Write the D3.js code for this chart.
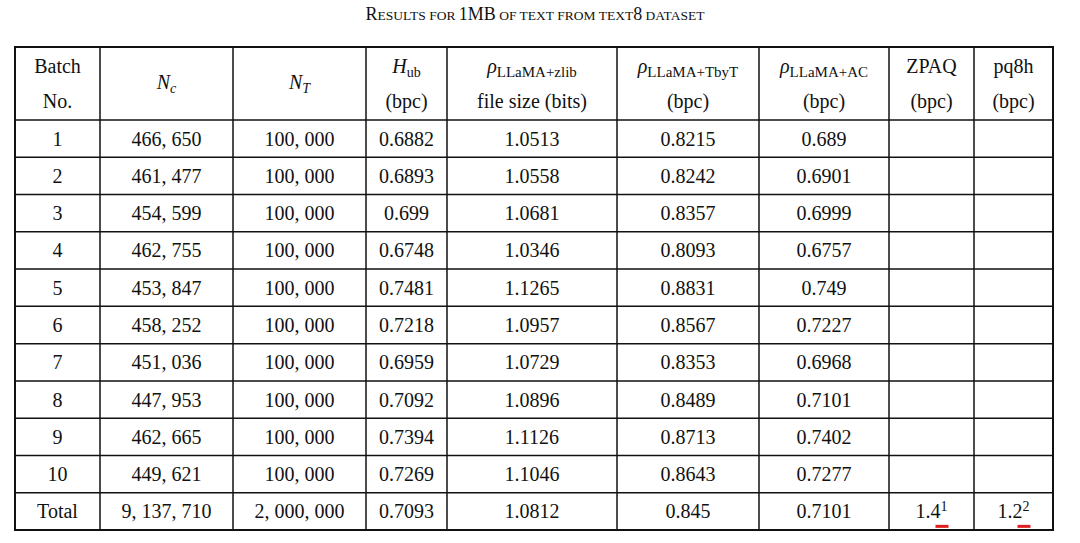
<!DOCTYPE html>
<html><head><meta charset="utf-8">
<script src="https://cdn.jsdelivr.net/npm/d3@7"></script>
<style>body{margin:0;background:#fff}text{font-family:"Liberation Serif","DejaVu Serif",serif;fill:#111}</style>
</head><body>
<svg id="c" width="1080" height="543"></svg>
<script>
// table data
const batches = ["1","2","3","4","5","6","7","8","9","10","Total"];
const nc = ["466, 650","461, 477","454, 599","462, 755","453, 847","458, 252","451, 036","447, 953","462, 665","449, 621","9, 137, 710"];
const nt = ["100, 000","100, 000","100, 000","100, 000","100, 000","100, 000","100, 000","100, 000","100, 000","100, 000","2, 000, 000"];
const hub = ["0.6882","0.6893","0.699","0.6748","0.7481","0.7218","0.6959","0.7092","0.7394","0.7269","0.7093"];
const zlib = ["1.0513","1.0558","1.0681","1.0346","1.1265","1.0957","1.0729","1.0896","1.1126","1.1046","1.0812"];
const tbyt = ["0.8215","0.8242","0.8357","0.8093","0.8831","0.8567","0.8353","0.8489","0.8713","0.8643","0.845"];
const ac = ["0.689","0.6901","0.6999","0.6757","0.749","0.7227","0.6968","0.7101","0.7402","0.7277","0.7101"];
const zpaq = ["","","","","","","","","","","1.4|1"];
const pq8h = ["","","","","","","","","","","1.2|2"];
const colEdges = [15,100,233,366,447,617,759,889,974,1053];

const svg = d3.select("#c");
const cols = [batches,nc,nt,hub,zlib,tbyt,ac,zpaq,pq8h];
const y = d3.scaleLinear().domain([0,11]).range([120,530]);
const topY = 47;

// title
const t = svg.append("text").attr("x",535).attr("y",20).attr("text-anchor","middle").style("font-size","18px");
[["R",18],["ESULTS FOR ",13.5],["1MB",18],[" OF TEXT FROM TEXT",13.5],["8",18],[" DATASET",13.5]].forEach(([s,f])=>t.append("tspan").text(s).style("font-size",f+"px"));

// grid
const g = svg.append("g").attr("stroke","#111").attr("stroke-width",1.5);
colEdges.forEach(x=>g.append("line").attr("x1",x).attr("x2",x).attr("y1",topY).attr("y2",530));
g.append("line").attr("x1",15).attr("x2",1053).attr("y1",topY).attr("y2",topY);
d3.range(12).forEach(i=>g.append("line").attr("x1",15).attr("x2",1053).attr("y1",y(i)).attr("y2",y(i)));
svg.append("rect").attr("x",15).attr("y",topY).attr("width",1038).attr("height",530-topY).attr("fill","none").attr("stroke","#111").attr("stroke-width",2);

const cx = i => (colEdges[i]+colEdges[i+1])/2;
function hdr(i, parts, yy){
  const e = svg.append("text").attr("x",cx(i)).attr("y",yy).attr("text-anchor","middle").style("font-size","20px");
  parts.forEach(p=>{
    const s = e.append("tspan").text(p.t);
    if(p.i) s.style("font-style","italic");
    if(p.sub) s.attr("baseline-shift","-25%").style("font-size",p.fs||"14px");
  });
}
hdr(0,[{t:"Batch"}],73); hdr(0,[{t:"No."}],108);
hdr(1,[{t:"N",i:1},{t:"c",i:1,sub:1}],89);
hdr(2,[{t:"N",i:1},{t:"T",i:1,sub:1}],89);
hdr(3,[{t:"H",i:1},{t:"ub",sub:1}],73); hdr(3,[{t:"(bpc)"}],108);
hdr(4,[{t:"ρ",i:1},{t:"LLaMA+zlib",sub:1,fs:"15px"}],73); hdr(4,[{t:"file size (bits)"}],108);
hdr(5,[{t:"ρ",i:1},{t:"LLaMA+TbyT",sub:1,fs:"15px"}],73); hdr(5,[{t:"(bpc)"}],108);
hdr(6,[{t:"ρ",i:1},{t:"LLaMA+AC",sub:1,fs:"15px"}],73); hdr(6,[{t:"(bpc)"}],108);
hdr(7,[{t:"ZPAQ"}],73); hdr(7,[{t:"(bpc)"}],108);
hdr(8,[{t:"pq8h"}],73); hdr(8,[{t:"(bpc)"}],108);

cols.forEach((arr,ci)=>{
  arr.forEach((v,ri)=>{
    if(!v) return;
    const yy = (y(ri)+y(ri+1))/2+7;
    const e = svg.append("text").attr("x",cx(ci)).attr("y",yy).attr("text-anchor","middle").style("font-size","20px");
    const [a,sup] = v.split("|");
    e.append("tspan").text(a);
    if(sup){
      e.append("tspan").text(sup).attr("baseline-shift","super").style("font-size","14px");
      const w = e.node().getBBox();
      svg.append("line").attr("x1",w.x+w.width-12).attr("x2",w.x+w.width+1).attr("y1",yy+8).attr("y2",yy+8).attr("stroke","#e02020").attr("stroke-width",3);
    }
  });
});
</script>
</body></html>
